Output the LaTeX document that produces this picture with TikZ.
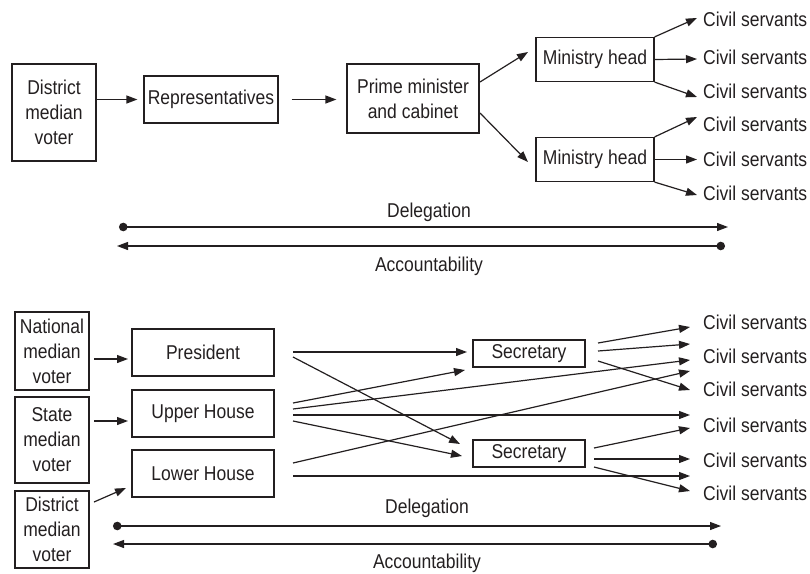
\documentclass[tikz,border=0pt]{standalone}
\usepackage{fontspec}
\setmainfont[FakeStretch=0.875]{Liberation Sans}
\usetikzlibrary{arrows.meta}
\definecolor{ink}{RGB}{35,31,32}
\begin{document}
\begin{tikzpicture}[x=1pt,y=-1pt,
  every node/.style={text=ink,font=\fontsize{20}{25}\selectfont},
  box/.style={draw=ink,line width=1.2pt,inner sep=0pt,align=center},
  lbl/.style={anchor=west,inner sep=0pt},
  conn/.style={draw=ink,line width=1.2pt,-{Triangle[length=11pt,width=8pt]}},
  dual/.style={draw=ink,line width=1.2pt,{Circle[length=8.5pt]}-{Triangle[length=11pt,width=8pt]}}]
\useasboundingbox (0,0) rectangle (810,573);

% ---------- top diagram ----------
\node[box,minimum width=84pt,minimum height=97pt] (dmv) at (54,112.5) {District\\median\\voter};
\node[box,minimum width=134pt,minimum height=47pt] (rep) at (211,99.5) {Representatives};
\node[box,minimum width=132pt,minimum height=69pt] (pm) at (413,98.5) {Prime minister\\and cabinet};
\node[box,minimum width=118pt,minimum height=44pt] (mh1) at (595,59.5) {Ministry head};
\node[box,minimum width=118pt,minimum height=44pt] (mh2) at (595,159.5) {Ministry head};

\node[lbl] (c1) at (703,19) {Civil servants};
\node[lbl] (c2) at (703,57) {Civil servants};
\node[lbl] (c3) at (703,91) {Civil servants};
\node[lbl] (c4) at (703,124) {Civil servants};
\node[lbl] (c5) at (703,159) {Civil servants};
\node[lbl] (c6) at (703,193) {Civil servants};

\draw[conn,shorten >=6pt] (dmv.east |- rep.west) -- (rep.west);
\draw[conn,shorten <=13pt,shorten >=10pt] (rep.east) -- (pm.west |- rep.east);
\coordinate (pa) at (480,82); \coordinate (pb) at (528,52);
\coordinate (pc) at (480,113); \coordinate (pd) at (528,162);
\draw[conn] (pa) -- (pb);
\draw[conn] (pc) -- (pd);
\coordinate (t1) at (697,18); \coordinate (t2) at (697,59); \coordinate (t3) at (697,97);
\coordinate (t4) at (697,117); \coordinate (t5) at (697,159.5); \coordinate (t6) at (697,195);
\draw[conn] (mh1.north east) -- (t1);
\draw[conn] (mh1.east) -- (t2);
\draw[conn] (mh1.south east) -- (t3);
\draw[conn] (mh2.north east) -- (t4);
\draw[conn] (mh2.east) -- (t5);
\draw[conn] (mh2.south east) -- (t6);

\coordinate (d1s) at (119,227); \coordinate (d1e) at (728,227);
\coordinate (a1s) at (725,246); \coordinate (a1e) at (117,246);
\draw[dual] (d1s) -- (d1e);
\draw[dual] (a1s) -- (a1e);
\node (dl1) at (429,212) {Delegation};
\node (al1) at (429,266) {Accountability};

% ---------- bottom diagram ----------
\node[box,minimum width=74pt,minimum height=78pt] (nmv) at (52,351) {National\\median\\voter};
\node[box,minimum width=74pt,minimum height=86pt] (smv) at (52,440) {State\\median\\voter};
\node[box,minimum width=74pt,minimum height=77pt] (dmv2) at (52,529.5) {District\\median\\voter};
\node[box,minimum width=142pt,minimum height=47pt] (pres) at (203,352.5) {President};
\node[box,minimum width=142pt,minimum height=47pt] (uh) at (203,413.5) {Upper House};
\node[box,minimum width=142pt,minimum height=47pt] (lh) at (203,473.5) {Lower House};
\node[box,minimum width=112pt,minimum height=27pt] (sec1) at (529,353.5) {Secretary};
\node[box,minimum width=112pt,minimum height=27pt] (sec2) at (529,453.5) {Secretary};

\node[lbl] (b1) at (703,322) {Civil servants};
\node[lbl] (b2) at (703,356) {Civil servants};
\node[lbl] (b3) at (703,389) {Civil servants};
\node[lbl] (b4) at (703,425) {Civil servants};
\node[lbl] (b5) at (703,460) {Civil servants};
\node[lbl] (b6) at (703,493) {Civil servants};

\coordinate (v1) at (94,359); \coordinate (v1e) at (128,359);
\coordinate (v2) at (94,421); \coordinate (v2e) at (128,421);
\coordinate (v3) at (94,502); \coordinate (v3e) at (126,488);
\draw[conn] (v1) -- (v1e);
\draw[conn] (v2) -- (v2e);
\draw[conn] (v3) -- (v3e);

% from President
\coordinate (p1) at (293,352); \coordinate (p1e) at (467,352);
\coordinate (p2) at (293,357); \coordinate (p2e) at (460,444);
\draw[conn] (p1) -- (p1e);
\draw[conn] (p2) -- (p2e);
% from Upper House
\coordinate (u1) at (293,403); \coordinate (u1e) at (465,370);
\coordinate (u2) at (293,409); \coordinate (u2e) at (690,360);
\coordinate (u3) at (293,415); \coordinate (u3e) at (690,415);
\coordinate (u4) at (293,421); \coordinate (u4e) at (462,456);
\draw[conn] (u1) -- (u1e);
\draw[conn] (u2) -- (u2e);
\draw[conn] (u3) -- (u3e);
\draw[conn] (u4) -- (u4e);
% from Lower House
\coordinate (l1) at (293,463); \coordinate (l1e) at (690,371);
\coordinate (l2) at (293,476); \coordinate (l2e) at (690,476);
\draw[conn] (l1) -- (l1e);
\draw[conn] (l2) -- (l2e);
% from Secretaries
\coordinate (s1a) at (598,343); \coordinate (s1ae) at (690,327);
\coordinate (s1b) at (598,351); \coordinate (s1be) at (690,344);
\coordinate (s1c) at (598,361); \coordinate (s1ce) at (690,390);
\coordinate (s2a) at (594,448); \coordinate (s2ae) at (690,428);
\coordinate (s2b) at (594,459); \coordinate (s2be) at (690,459);
\coordinate (s2c) at (594,467); \coordinate (s2ce) at (690,491);
\draw[conn] (s1a) -- (s1ae);
\draw[conn] (s1b) -- (s1be);
\draw[conn] (s1c) -- (s1ce);
\draw[conn] (s2a) -- (s2ae);
\draw[conn] (s2b) -- (s2be);
\draw[conn] (s2c) -- (s2ce);

\coordinate (d2s) at (113,526); \coordinate (d2e) at (721,526);
\coordinate (a2s) at (717,544); \coordinate (a2e) at (113,544);
\draw[dual] (d2s) -- (d2e);
\draw[dual] (a2s) -- (a2e);
\node (dl2) at (427,508) {Delegation};
\node (al2) at (427,563) {Accountability};
\end{tikzpicture}
\end{document}
